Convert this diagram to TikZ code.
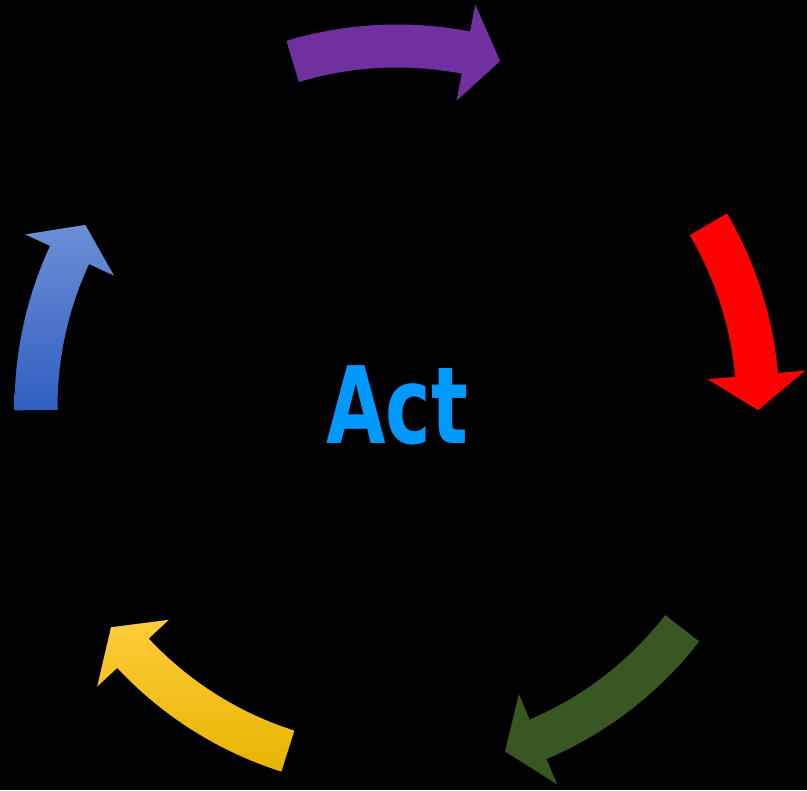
\documentclass[tikz,border=0pt]{standalone}
\usepackage{fontspec}
\newfontfamily\actfont{DejaVu Sans Condensed}
\definecolor{actblue}{RGB}{0,153,255}
\definecolor{arrowpurple}{RGB}{112,48,160}
\definecolor{arrowred}{RGB}{255,0,0}
\definecolor{arrowgreen}{RGB}{56,87,35}
\definecolor{bluetop}{RGB}{108,142,214}
\definecolor{bluebottom}{RGB}{47,95,192}
\definecolor{yellowtop}{RGB}{255,204,60}
\definecolor{yellowbottom}{RGB}{232,180,0}
\tikzset{
  bluearrow/.style={top color=bluetop, bottom color=bluebottom},
  purplearrow/.style={fill=arrowpurple},
  redarrow/.style={fill=arrowred},
  greenarrow/.style={fill=arrowgreen},
  yellowarrow/.style={top color=yellowtop, bottom color=yellowbottom},
}
\begin{document}
\begin{tikzpicture}[x=0.025cm,y=0.025cm]
    \useasboundingbox (0,0) rectangle (807,790);
    \fill[black] (0,0) rectangle (807,790);
    \coordinate (c) at (397,383);
    \foreach \s/\b/\t/\st in {180.5/155.1/149.7/bluearrow, 106.8/79.0/73.4/purplearrow,
        30.4/5.1/-0.5/redarrow, -37.8/-67.0/-72.6/greenarrow, -107.6/-137.0/-142.4/yellowarrow}
      \path[\st] ([shift={(\s:382.5)}]c) arc[start angle=\s, end angle=\b, radius=382.5]
        -- ([shift={(\b:410)}]c) -- ([shift={(\t:361)}]c) -- ([shift={(\b:312)}]c)
        -- ([shift={(\b:339.5)}]c) arc[start angle=\b, end angle=\s, radius=339.5] -- cycle;
    \node[font=\actfont\bfseries\fontsize{76}{80}\selectfont, text=actblue, xscale=0.8] (act) at (397,385) {Act};
\end{tikzpicture}
\end{document}
